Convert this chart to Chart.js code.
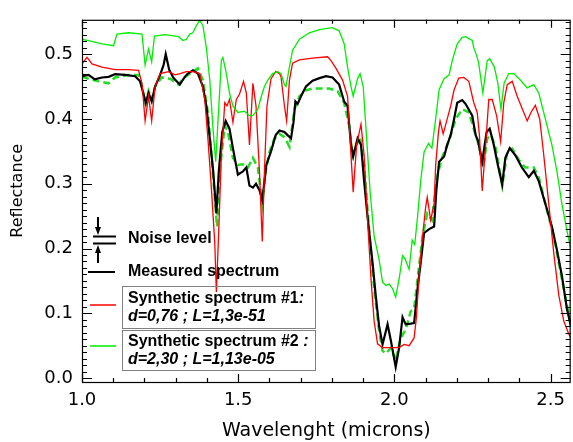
<!DOCTYPE html>
<html>
<head>
<meta charset="utf-8">
<script src="https://cdn.jsdelivr.net/npm/chart.js@4.4.1/dist/chart.umd.min.js"></script>
<style>
  html, body { margin: 0; padding: 0; background: #fff; }
  #wrap { width: 573px; height: 442px; }
</style>
</head>
<body>
<div id="wrap"><canvas id="myChart" width="573" height="442"></canvas></div>
<script>
// tick labels
const xTicks = [1.0, 1.5, 2.0, 2.5];
const yTicks = [0.0, 0.1, 0.2, 0.3, 0.4, 0.5];

// measured spectrum (black)
const measuredWl = [1.000, 1.021, 1.041, 1.064, 1.085, 1.106, 1.138, 1.170, 1.186, 1.197, 1.204, 1.213, 1.223, 1.234, 1.250, 1.261, 1.268, 1.279, 1.293, 1.303,
  1.313, 1.329, 1.339, 1.355, 1.371, 1.387, 1.398, 1.409, 1.420, 1.430, 1.438, 1.449, 1.460, 1.472, 1.483, 1.499, 1.515, 1.526, 1.536, 1.547,
  1.557, 1.568, 1.577, 1.590, 1.605, 1.620, 1.632, 1.648, 1.658, 1.669, 1.677, 1.683, 1.690, 1.701, 1.717, 1.738, 1.760, 1.781, 1.802, 1.823,
  1.839, 1.850, 1.861, 1.868, 1.882, 1.893, 1.903, 1.914, 1.930, 1.940, 1.951, 1.962, 1.978, 1.989, 2.004, 2.015, 2.026, 2.036, 2.052, 2.063,
  2.074, 2.084, 2.095, 2.111, 2.127, 2.134, 2.143, 2.159, 2.169, 2.180, 2.191, 2.201, 2.217, 2.228, 2.249, 2.260, 2.267, 2.281, 2.295, 2.305,
  2.318, 2.331, 2.345, 2.355, 2.369, 2.387, 2.408, 2.430, 2.446, 2.462, 2.483, 2.504, 2.520, 2.536, 2.552, 2.565];
const measured = [0.466, 0.468, 0.461, 0.464, 0.465, 0.469, 0.468, 0.466, 0.458, 0.438, 0.425, 0.440, 0.427, 0.450, 0.468, 0.483, 0.500, 0.476, 0.463, 0.458,
  0.453, 0.465, 0.470, 0.475, 0.470, 0.450, 0.420, 0.370, 0.319, 0.254, 0.320, 0.380, 0.397, 0.385, 0.355, 0.314, 0.319, 0.325, 0.297, 0.294,
  0.300, 0.290, 0.275, 0.329, 0.350, 0.375, 0.382, 0.380, 0.375, 0.370, 0.395, 0.427, 0.423, 0.435, 0.450, 0.459, 0.463, 0.466, 0.464, 0.453,
  0.427, 0.420, 0.360, 0.342, 0.370, 0.360, 0.304, 0.249, 0.178, 0.128, 0.080, 0.052, 0.083, 0.057, 0.017, 0.047, 0.094, 0.083, 0.084, 0.085,
  0.138, 0.178, 0.224, 0.230, 0.234, 0.289, 0.334, 0.342, 0.360, 0.375, 0.400, 0.425, 0.429, 0.423, 0.405, 0.375, 0.367, 0.334, 0.380, 0.385,
  0.360, 0.329, 0.299, 0.340, 0.355, 0.344, 0.325, 0.310, 0.320, 0.304, 0.269, 0.234, 0.198, 0.158, 0.107, 0.080];

// synthetic spectrum #1 (red)
const synth1Wl = [1.000, 1.016, 1.032, 1.064, 1.106, 1.149, 1.181, 1.192, 1.202, 1.213, 1.223, 1.234, 1.250, 1.277, 1.298, 1.314, 1.334, 1.355, 1.377, 1.393,
  1.403, 1.414, 1.425, 1.430, 1.437, 1.446, 1.457, 1.464, 1.472, 1.483, 1.494, 1.504, 1.517, 1.526, 1.536, 1.547, 1.557, 1.568, 1.577, 1.584,
  1.592, 1.605, 1.620, 1.632, 1.637, 1.648, 1.655, 1.664, 1.674, 1.696, 1.738, 1.786, 1.797, 1.813, 1.834, 1.850, 1.861, 1.868, 1.879, 1.893,
  1.903, 1.914, 1.925, 1.935, 1.946, 1.962, 2.015, 2.031, 2.047, 2.063, 2.070, 2.079, 2.090, 2.100, 2.105, 2.116, 2.127, 2.132, 2.141, 2.146,
  2.156, 2.169, 2.180, 2.191, 2.206, 2.222, 2.238, 2.254, 2.265, 2.272, 2.281, 2.292, 2.302, 2.313, 2.327, 2.340, 2.350, 2.361, 2.377, 2.393,
  2.408, 2.425, 2.437, 2.451, 2.465, 2.478, 2.494, 2.510, 2.526, 2.542, 2.558, 2.565];
const synth1 = [0.485, 0.495, 0.485, 0.480, 0.476, 0.476, 0.475, 0.455, 0.397, 0.435, 0.397, 0.450, 0.470, 0.473, 0.468, 0.470, 0.473, 0.473, 0.470, 0.430,
  0.370, 0.294, 0.208, 0.133, 0.219, 0.344, 0.425, 0.420, 0.430, 0.395, 0.430, 0.438, 0.458, 0.440, 0.360, 0.455, 0.420, 0.319, 0.211, 0.320,
  0.420, 0.462, 0.473, 0.470, 0.465, 0.420, 0.397, 0.460, 0.486, 0.491, 0.494, 0.496, 0.490, 0.478, 0.460, 0.435, 0.344, 0.287, 0.360, 0.392,
  0.344, 0.244, 0.153, 0.088, 0.053, 0.047, 0.047, 0.052, 0.050, 0.062, 0.092, 0.158, 0.219, 0.264, 0.279, 0.244, 0.269, 0.329, 0.380, 0.397,
  0.377, 0.400, 0.420, 0.445, 0.463, 0.464, 0.458, 0.425, 0.410, 0.375, 0.289, 0.360, 0.430, 0.430, 0.405, 0.365, 0.425, 0.453, 0.458, 0.435,
  0.417, 0.397, 0.410, 0.421, 0.400, 0.344, 0.269, 0.193, 0.128, 0.088, 0.068, 0.062];

// synthetic spectrum #2 (green)
const synth2Wl = [1.000, 1.021, 1.064, 1.101, 1.112, 1.149, 1.192, 1.202, 1.213, 1.223, 1.232, 1.266, 1.309, 1.323, 1.334, 1.345, 1.355, 1.366, 1.377, 1.387,
  1.398, 1.409, 1.420, 1.428, 1.438, 1.446, 1.451, 1.462, 1.472, 1.483, 1.499, 1.520, 1.536, 1.547, 1.563, 1.574, 1.584, 1.595, 1.610, 1.627,
  1.637, 1.648, 1.653, 1.662, 1.674, 1.696, 1.728, 1.760, 1.802, 1.823, 1.839, 1.850, 1.861, 1.868, 1.882, 1.890, 1.900, 1.911, 1.922, 1.935,
  1.951, 1.962, 1.973, 1.983, 1.994, 2.004, 2.015, 2.026, 2.034, 2.047, 2.057, 2.065, 2.074, 2.084, 2.095, 2.109, 2.120, 2.132, 2.143, 2.159,
  2.175, 2.185, 2.201, 2.217, 2.228, 2.249, 2.254, 2.265, 2.270, 2.283, 2.297, 2.305, 2.320, 2.331, 2.341, 2.351, 2.366, 2.382, 2.403, 2.425,
  2.446, 2.462, 2.483, 2.504, 2.520, 2.536, 2.552, 2.565];
const synth2 = [0.523, 0.521, 0.516, 0.513, 0.531, 0.533, 0.531, 0.483, 0.508, 0.488, 0.528, 0.530, 0.527, 0.521, 0.523, 0.531, 0.533, 0.544, 0.552, 0.544,
  0.510, 0.460, 0.380, 0.334, 0.420, 0.490, 0.495, 0.470, 0.440, 0.420, 0.410, 0.412, 0.405, 0.405, 0.415, 0.435, 0.450, 0.460, 0.470, 0.473,
  0.470, 0.453, 0.450, 0.475, 0.506, 0.523, 0.533, 0.538, 0.541, 0.536, 0.516, 0.480, 0.450, 0.435, 0.462, 0.470, 0.450, 0.370, 0.289, 0.219,
  0.183, 0.148, 0.143, 0.145, 0.138, 0.125, 0.153, 0.189, 0.184, 0.168, 0.213, 0.206, 0.249, 0.304, 0.349, 0.362, 0.355, 0.400, 0.445, 0.462,
  0.468, 0.490, 0.516, 0.526, 0.527, 0.521, 0.510, 0.495, 0.485, 0.440, 0.490, 0.493, 0.480, 0.455, 0.415, 0.455, 0.470, 0.470, 0.460, 0.448,
  0.453, 0.440, 0.400, 0.360, 0.319, 0.269, 0.228, 0.198];

// best fit (green dashed)
const fitWl = [1.000, 1.021, 1.053, 1.085, 1.106, 1.149, 1.181, 1.192, 1.204, 1.213, 1.223, 1.234, 1.255, 1.282, 1.309, 1.323, 1.345, 1.371, 1.387, 1.403,
  1.420, 1.432, 1.443, 1.457, 1.467, 1.483, 1.499, 1.515, 1.531, 1.547, 1.563, 1.577, 1.588, 1.600, 1.616, 1.632, 1.648, 1.664, 1.680, 1.696,
  1.717, 1.738, 1.791, 1.818, 1.839, 1.855, 1.866, 1.879, 1.890, 1.903, 1.919, 1.935, 1.951, 1.962, 1.973, 1.989, 2.004, 2.020, 2.036, 2.052,
  2.063, 2.074, 2.090, 2.105, 2.120, 2.136, 2.152, 2.175, 2.196, 2.217, 2.238, 2.259, 2.270, 2.284, 2.297, 2.310, 2.324, 2.345, 2.361, 2.377,
  2.398, 2.419, 2.446, 2.462, 2.483, 2.510, 2.530, 2.552, 2.565];
const fit = [0.465, 0.462, 0.458, 0.455, 0.464, 0.468, 0.468, 0.450, 0.423, 0.443, 0.430, 0.450, 0.464, 0.462, 0.453, 0.462, 0.470, 0.478, 0.460, 0.410,
  0.310, 0.234, 0.329, 0.390, 0.380, 0.340, 0.329, 0.330, 0.325, 0.340, 0.325, 0.269, 0.319, 0.349, 0.370, 0.377, 0.372, 0.357, 0.415, 0.435,
  0.444, 0.447, 0.447, 0.443, 0.425, 0.390, 0.344, 0.360, 0.372, 0.329, 0.228, 0.138, 0.073, 0.042, 0.038, 0.047, 0.027, 0.062, 0.075, 0.103,
  0.107, 0.153, 0.219, 0.254, 0.244, 0.310, 0.340, 0.367, 0.400, 0.415, 0.410, 0.377, 0.360, 0.325, 0.370, 0.375, 0.355, 0.297, 0.349, 0.354,
  0.337, 0.325, 0.325, 0.310, 0.269, 0.219, 0.168, 0.113, 0.080];

const pts = (wl, r) => wl.map((x, i) => ({ x: x, y: r[i] }));

Chart.defaults.font.family = 'DejaVu Sans';
Chart.defaults.color = '#000';

// box frame with inward ticks on all four sides
const frame = {
  id: 'frame',
  afterDatasetsDraw(chart) {
    const { ctx, chartArea: a, scales: { x, y } } = chart;
    ctx.save();
    ctx.strokeStyle = '#000';
    ctx.lineWidth = 1.2;
    ctx.beginPath();
    for (let v = 1.0; v <= x.max + 1e-9; v += 0.1) {
      const px = Math.round(x.getPixelForValue(v)) + 0.5;
      const major = Math.abs(v * 2 - Math.round(v * 2)) < 1e-6;
      const len = major ? 8 : 4;
      ctx.moveTo(px, a.bottom); ctx.lineTo(px, a.bottom - len);
      ctx.moveTo(px, a.top); ctx.lineTo(px, a.top + len);
    }
    for (let i = 0; i <= 55; i++) {
      const py = Math.round(y.getPixelForValue(i / 100)) + 0.5;
      const len = i % 10 === 0 ? 10 : 5;
      ctx.moveTo(a.left, py); ctx.lineTo(a.left + len, py);
      ctx.moveTo(a.right, py); ctx.lineTo(a.right - len, py);
    }
    ctx.stroke();
    ctx.strokeRect(a.left + 0.5, a.top + 0.5, a.right - a.left - 1, a.bottom - a.top);
    ctx.restore();
  }
};

// legend as in the original figure
const legendBox = {
  id: 'legendBox',
  afterDraw(chart) {
    const ctx = chart.ctx;
    ctx.save();
    ctx.textBaseline = 'middle';
    ctx.textAlign = 'left';
    ctx.fillStyle = '#000';
    ctx.strokeStyle = '#000';

    // noise level symbol
    ctx.lineWidth = 2;
    ctx.beginPath();
    ctx.moveTo(93, 236.5); ctx.lineTo(116, 236.5);
    ctx.moveTo(93, 243.5); ctx.lineTo(116, 243.5);
    ctx.moveTo(98, 217); ctx.lineTo(98, 229);
    ctx.moveTo(98, 263); ctx.lineTo(98, 251);
    ctx.stroke();
    ctx.beginPath();
    ctx.moveTo(95, 227); ctx.lineTo(101, 227); ctx.lineTo(98, 235); ctx.closePath();
    ctx.moveTo(95, 253); ctx.lineTo(101, 253); ctx.lineTo(98, 245); ctx.closePath();
    ctx.fill();

    ctx.font = 'bold 16px "Liberation Sans", Arial, sans-serif';
    ctx.fillText('Noise level', 128, 239);

    ctx.beginPath();
    ctx.moveTo(88, 272); ctx.lineTo(115, 272);
    ctx.stroke();
    ctx.fillText('Measured spectrum', 128, 272);

    // boxes
    ctx.lineWidth = 1;
    ctx.strokeStyle = '#808080';
    ctx.strokeRect(122.5, 286.5, 193, 42);
    ctx.strokeRect(122.5, 330.5, 193, 40);

    ctx.lineWidth = 1.5;
    ctx.strokeStyle = '#ff0000';
    ctx.beginPath(); ctx.moveTo(90, 305); ctx.lineTo(116, 305); ctx.stroke();
    ctx.strokeStyle = '#00ee00';
    ctx.beginPath(); ctx.moveTo(90, 346); ctx.lineTo(116, 346); ctx.stroke();

    const bold = 'bold 16px "Liberation Sans", Arial, sans-serif';
    const boldIt = 'italic bold 16px "Liberation Sans", Arial, sans-serif';
    ctx.font = bold;
    ctx.fillText('Synthetic spectrum #1', 128, 299);
    let w = ctx.measureText('Synthetic spectrum #1').width;
    ctx.font = boldIt;
    ctx.fillText(':', 128 + w, 299);
    ctx.fillText('d=0,76 ; L=1,3e-51', 128, 317);

    ctx.font = bold;
    ctx.fillText('Synthetic spectrum #2', 128, 342);
    w = ctx.measureText('Synthetic spectrum #2').width;
    ctx.font = boldIt;
    ctx.fillText(' :', 128 + w, 342);
    ctx.fillText('d=2,30 ; L=1,13e-05', 128, 360);
    ctx.restore();
  }
};

new Chart(document.getElementById('myChart'), {
  type: 'line',
  data: {
    datasets: [
      { label: 'Synthetic spectrum #2', data: pts(synth2Wl, synth2), borderColor: '#00ee00', borderWidth: 1.3 },
      { label: 'Synthetic spectrum #1', data: pts(synth1Wl, synth1), borderColor: '#ff0000', borderWidth: 1.3 },
      { label: 'Measured spectrum', data: pts(measuredWl, measured), borderColor: '#000000', borderWidth: 2.2 },
      { label: 'Fit', data: pts(fitWl, fit), borderColor: '#22dd22', borderWidth: 2.5, borderDash: [7, 4] }
    ]
  },
  options: {
    responsive: false,
    animation: false,
    elements: { point: { radius: 0 }, line: { tension: 0, fill: false } },
    layout: { padding: { top: 12, right: 1, left: 0, bottom: 0 } },
    plugins: { legend: { display: false }, tooltip: { enabled: false } },
    scales: {
      x: {
        type: 'linear',
        min: 1.0,
        max: 2.564,
        afterBuildTicks: s => { s.ticks = xTicks.map(v => ({ value: v })); },
        afterFit: s => { s.height = 60; },
        grid: { display: false, drawTicks: false },
        border: { display: false },
        ticks: { padding: 8, maxRotation: 0, autoSkip: false, font: { size: 18 }, callback: v => v.toFixed(1) },
        title: { display: true, text: 'Wavelenght (microns)', font: { size: 19 }, padding: { top: 0, bottom: 0 } }
      },
      y: {
        type: 'linear',
        min: -0.006,
        max: 0.553,
        afterBuildTicks: s => { s.ticks = yTicks.map(v => ({ value: v })); },
        afterFit: s => { s.width = 82; },
        grid: { display: false, drawTicks: false },
        border: { display: false },
        ticks: { padding: 9, autoSkip: false, font: { size: 18 }, callback: v => v.toFixed(1) },
        // leading figure spaces lift the rotated word to where the original sits
        title: { display: true, text: '\u2007\u2007Reflectance', font: { size: 16 }, padding: { top: 8, bottom: 0 } }
      }
    }
  },
  plugins: [frame, legendBox]
});
</script>
</body>
</html>
